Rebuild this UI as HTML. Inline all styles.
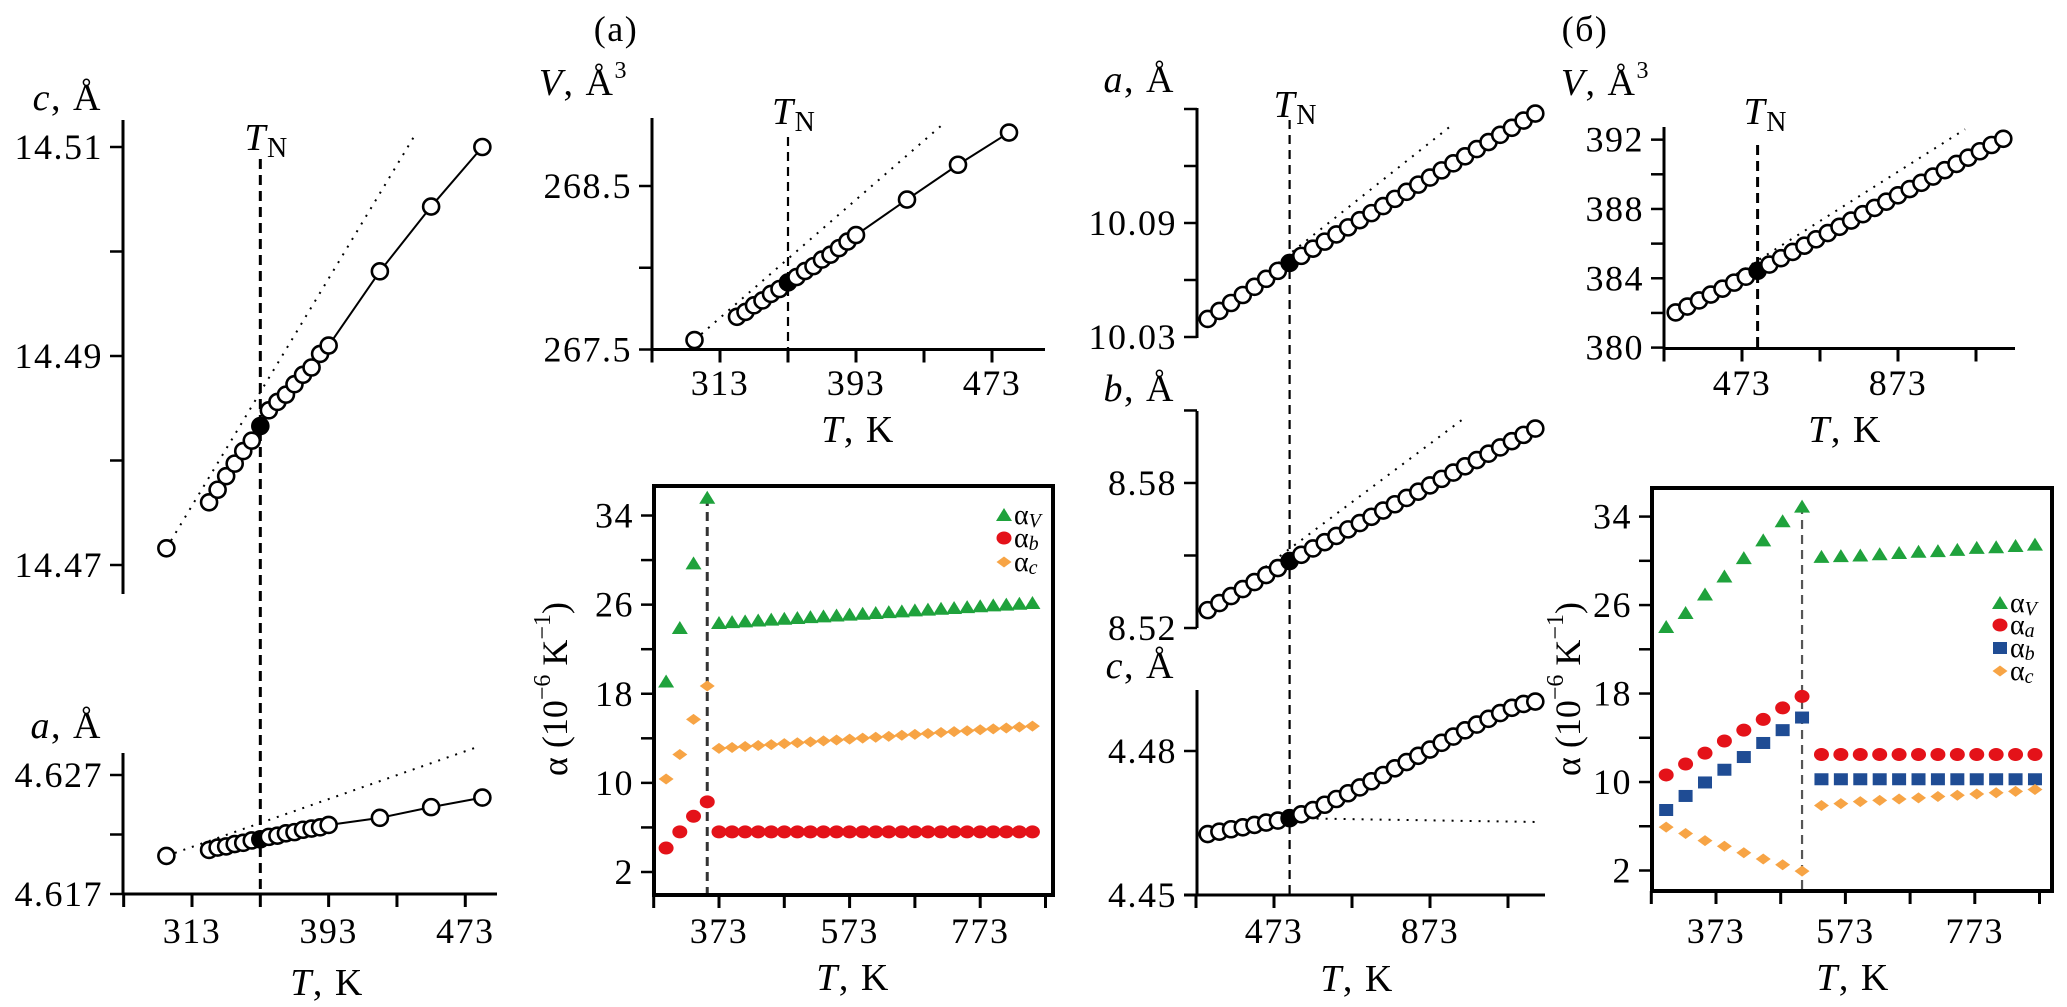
<!DOCTYPE html>
<html><head><meta charset="utf-8">
<style>
html,body{margin:0;padding:0;background:#fff;}
svg{display:block;font-family:"Liberation Serif","DejaVu Serif",serif;}
</style></head>
<body>
<svg id="chart" width="2067" height="1007" viewBox="0 0 2067 1007" xmlns="http://www.w3.org/2000/svg"></svg>
<script>
// ---------- DATA ----------
const p1T = [298,323,328,333,338,343,348,353,358,363,368,373,378,383,388,393,423,453,483];
const p1C = [14.4716,14.4760,14.4772,14.4785,14.4797,14.4809,14.4819,14.4833,14.4848,14.4856,14.4863,14.4873,14.4882,14.4889,14.4902,14.4910,14.4981,14.5043,14.5100];
const p1A = [4.6202,4.6207,4.6209,4.6210,4.6212,4.6213,4.6215,4.6216,4.6218,4.6219,4.6221,4.6222,4.6224,4.6225,4.6226,4.6228,4.6234,4.6243,4.6251];
const p1cFitT = [298,443];
const p1cFitV = [14.4716,14.5110];
const p1aFitT = [298,481];
const p1aFitV = [4.6202,4.6294];
const p1cTicks = [14.47,14.48,14.49,14.50,14.51];
const p1cLabels = ['14.47','','14.49','','14.51'];
const p1aTicks = [4.617,4.622,4.627];
const p1aLabels = ['4.617','','4.627'];
const p1xTicks = [273,313,353,393,433,473];
const p1xLabels = ['','313','','393','','473'];
const p1TN = 353;
const p2T = [298,323,328,333,338,343,348,353,358,363,368,373,378,383,388,393,423,453,483];
const p2V = [267.558,267.70,267.73,267.77,267.80,267.84,267.87,267.91,267.943,267.98,268.01,268.05,268.08,268.12,268.16,268.20,268.417,268.63,268.827];
const p2FitT = [298,444];
const p2FitV = [267.558,268.877];
const p2yTicks = [267.5,268.0,268.5];
const p2yLabels = ['267.5','','268.5'];
const p2xTicks = [273,313,353,393,433,473];
const p2xLabels = ['','313','','393','','473'];
const aT1 = [292,313,334,355];
const aV1 = [19.1,23.9,29.7,35.6];
const aC1 = [10.35,12.55,15.7,18.7];
const aB1 = [4.15,5.6,7.0,8.3];
const aT2 = [373,393,413,433,453,473,493,513,533,553,573,593,613,633,653,673,693,713,733,753,773,793,813,833,853];
const aV2 = [24.35,24.43,24.50,24.58,24.65,24.73,24.80,24.88,24.95,25.03,25.10,25.18,25.25,25.33,25.40,25.48,25.55,25.63,25.70,25.78,25.85,25.93,26.00,26.08,26.15];
const aC2 = [13.10,13.18,13.27,13.35,13.43,13.52,13.60,13.68,13.77,13.85,13.93,14.02,14.10,14.18,14.27,14.35,14.43,14.52,14.60,14.68,14.77,14.85,14.93,15.02,15.10];
const aB2 = [5.6,5.6,5.6,5.6,5.6,5.6,5.6,5.6,5.6,5.6,5.6,5.6,5.6,5.6,5.6,5.6,5.6,5.6,5.6,5.6,5.6,5.6,5.6,5.6,5.6];
const alphaYTicks = [2,6,10,14,18,22,26,30,34];
const alphaYLabels = ['2','','10','','18','','26','','34'];
const alphaXTicks = [273,373,473,573,673,773,873];
const alphaXLabels = ['','373','','573','','773',''];
const aTN = 355;
const p3T = [303,333,363,393,423,453,483,513,543,573,603,633,663,693,723,753,783,813,843,873,903,933,963,993,1023,1053,1083,1113,1143];
const p3A = [10.0395,10.0437,10.0479,10.0521,10.0564,10.0606,10.0648,10.0690,10.0727,10.0765,10.0802,10.0840,10.0877,10.0915,10.0952,10.0989,10.1027,10.1064,10.1102,10.1139,10.1177,10.1214,10.1251,10.1289,10.1326,10.1364,10.1401,10.1439,10.1476];
const p3B = [8.5274,8.5303,8.5332,8.5361,8.5390,8.5419,8.5448,8.5477,8.5503,8.5529,8.5555,8.5581,8.5608,8.5634,8.5660,8.5686,8.5712,8.5738,8.5764,8.5790,8.5817,8.5843,8.5869,8.5895,8.5921,8.5947,8.5973,8.5999,8.6025];
const p3C = [4.4627,4.4632,4.4637,4.4641,4.4646,4.4651,4.4655,4.4660,4.4668,4.4677,4.4688,4.4700,4.4712,4.4724,4.4737,4.4750,4.4764,4.4777,4.4790,4.4803,4.4817,4.4830,4.4843,4.4855,4.4867,4.4879,4.4890,4.4898,4.4903];
const p3aFitT = [303,932];
const p3aFitV = [10.0395,10.142];
const p3bFitT = [303,954];
const p3bFitV = [8.5274,8.606];
const p3cFitT = [513,1155];
const p3cFitV = [4.4660,4.4652];
const p3aTicks = [10.03,10.06,10.09,10.12,10.15];
const p3aLabels = ['10.03','','10.09','',''];
const p3bTicks = [8.52,8.55,8.58,8.61];
const p3bLabels = ['8.52','','8.58',''];
const p3cTicks = [4.45,4.48];
const p3cLabels = ['4.45','4.48'];
const p3xTicks = [273,473,673,873,1073];
const p3xLabels = ['','473','','873',''];
const bTN = 513;
const p4T = [303,333,363,393,423,453,483,513,543,573,603,633,663,693,723,753,783,813,843,873,903,933,963,993,1023,1053,1083,1113,1143];
const p4V = [382.03,382.37,382.72,383.06,383.40,383.75,384.09,384.43,384.79,385.16,385.52,385.88,386.25,386.61,386.97,387.33,387.70,388.06,388.42,388.79,389.15,389.51,389.87,390.24,390.60,390.96,391.33,391.69,392.05];
const p4FitT = [303,1045];
const p4FitV = [382.03,392.6];
const p4yTicks = [380,382,384,386,388,390,392];
const p4yLabels = ['380','','384','','388','','392'];
const p4xTicks = [273,473,673,873,1073];
const p4xLabels = ['','473','','873',''];
const bT1 = [296,326,356,386,416,446,476,506];
const bV1 = [24.02,25.28,26.95,28.58,30.24,31.85,33.58,34.9];
const bA1 = [10.64,11.63,12.61,13.71,14.69,15.66,16.70,17.74];
const bB1 = [7.47,8.74,9.96,11.11,12.26,13.53,14.69,15.83];
const bC1 = [5.92,5.35,4.70,4.19,3.61,3.04,2.52,1.94];
const bT2 = [536,566,596,626,656,686,716,746,776,806,836,866];
const bV2 = [30.36,30.42,30.48,30.59,30.71,30.82,30.88,30.99,31.17,31.23,31.34,31.46];
const bA2 = [12.49,12.49,12.49,12.49,12.49,12.49,12.49,12.49,12.49,12.49,12.49,12.49];
const bB2 = [10.25,10.25,10.25,10.25,10.25,10.25,10.25,10.25,10.25,10.25,10.25,10.25];
const bC2 = [7.88,8.05,8.23,8.34,8.46,8.57,8.69,8.80,8.92,9.03,9.15,9.32];
const bTNa = 506;

// ---------- HELPERS ----------
const NS = 'http://www.w3.org/2000/svg';
const svg = document.getElementById('chart');
function mk(tag, attrs, parent) {
  const e = document.createElementNS(NS, tag);
  for (const k in attrs) e.setAttribute(k, attrs[k]);
  (parent || svg).appendChild(e);
  return e;
}
function grp(name) {
  const g = mk('g', {});
  
  
  return g;
}
function txt(x, y, s, size, anchor, parent) {
  const t = mk('text', {x: x, y: y, 'font-size': size, 'text-anchor': anchor, 'dominant-baseline': 'central', 'letter-spacing': 1.5, fill: '#000'}, parent);
  t.textContent = s;
  return t;
}
function ts(parent, s, attrs) {
  const t = mk('tspan', attrs || {}, parent);
  t.textContent = s;
  return t;
}
function vAxis(g, x, yTop, yBot, ticks, labels, yf) {
  const l = mk('line', {x1: x, y1: yTop, x2: x, y2: yBot, stroke: '#000', 'stroke-width': 3}, g);
  
  
  ticks.forEach((v, i) => {
    const y = yf(v);
    const t = mk('line', {x1: x - 13, y1: y, x2: x, y2: y, stroke: '#000', 'stroke-width': 2.5}, g);
    
    
    if (labels[i]) {
      const lb = txt(x - 20, y, labels[i], 36, 'end', g);
      
      
    }
  });
}
function hAxis(g, y, xL, xR, ticks, labels, xf, ly, drawLine) {
  if (drawLine) {
    const l = mk('line', {x1: xL, y1: y, x2: xR, y2: y, stroke: '#000', 'stroke-width': 3}, g);
    
    
  }
  ticks.forEach((v, i) => {
    const x = xf(v);
    const t = mk('line', {x1: x, y1: y, x2: x, y2: y + 13, stroke: '#000', 'stroke-width': 3}, g);
    
    
    if (labels[i]) {
      const lb = txt(x, ly, labels[i], 36, 'middle', g);
      
      
    }
  });
}
function xTitle(g, x, y) {
  const t = txt(x, y, '', 38, 'middle', g);
  ts(t, 'T', {'font-style': 'italic'});
  ts(t, ', K');
  
  
}
function yTitleLetter(g, xr, y, letter, sup) {
  const t = txt(xr, y, '', 38, 'end', g);
  ts(t, letter, {'font-style': 'italic'});
  ts(t, ', Å');
  if (sup) ts(t, sup, {'font-size': 24, dy: -12});
  
  
}
function tnLine(g, x, y1, y2, w, color, dash) {
  const l = mk('line', {x1: x, y1: y1, x2: x, y2: y2, stroke: color, 'stroke-width': w, 'stroke-dasharray': dash}, g);
  
  
}
function tnLabel(g, x, y) {
  const t = txt(x, y, '', 38, 'start', g);
  ts(t, 'T', {'font-style': 'italic'});
  ts(t, 'N', {'font-size': 28, dy: 10});
  
  
}
function fitLine(g, Ts, Vs, xf, yf) {
  const l = mk('line', {x1: xf(Ts[0]), y1: yf(Vs[0]), x2: xf(Ts[1]), y2: yf(Vs[1]), stroke: '#000', 'stroke-width': 2, 'stroke-dasharray': '2,7'}, g);
  
  
}
function solidLine(g, Ts, Vs, xf, yf, from) {
  const pts = [];
  for (let i = from; i < Ts.length; i++) pts.push(xf(Ts[i]) + ',' + yf(Vs[i]));
  const p = mk('polyline', {points: pts.join(' '), fill: 'none', stroke: '#000', 'stroke-width': 2}, g);
  
  
}
function openPts(g, Ts, Vs, xf, yf, filledIdx) {
  Ts.forEach((T, i) => {
    const c = mk('circle', {cx: xf(T), cy: yf(Vs[i]), r: 8, fill: i === filledIdx ? '#000' : '#fff', stroke: '#000', 'stroke-width': 2.6}, g);
    
    
  });
}
function marker(g, type, x, y, color) {
  let e;
  if (type === 'tri') e = mk('polygon', {points: (x-8)+','+(y+6)+' '+(x+8)+','+(y+6)+' '+x+','+(y-7), fill: color}, g);
  else if (type === 'circ') e = mk('ellipse', {cx: x, cy: y, rx: 7.5, ry: 6.5, fill: color}, g);
  else if (type === 'sq') e = mk('rect', {x: x - 7, y: y - 6, width: 14, height: 12, fill: color}, g);
  else e = mk('polygon', {points: (x-7.5)+','+y+' '+x+','+(y-5.5)+' '+(x+7.5)+','+y+' '+x+','+(y+5.5), fill: color}, g);
  return e;
}
function series(g, type, color, Ts, Vs, xf, yf, name) {
  Ts.forEach((T, i) => {
    const m = marker(g, type, xf(T), yf(Vs[i]), color);
    
    
  });
}
function alphaTitle(g, x, y) {
  const t = mk('text', {x: 0, y: 0, 'font-size': 36, 'text-anchor': 'middle', 'dominant-baseline': 'central', transform: 'translate(' + x + ',' + y + ') rotate(-90)'}, g);
  ts(t, 'α (10');
  ts(t, '−6', {'font-size': 24, dy: -12});
  ts(t, ' K', {dy: 12});
  ts(t, '−1', {'font-size': 24, dy: -12});
  ts(t, ')', {dy: 12});
  
  
}
function legendEntry(g, type, color, x, y, sub) {
  const m = marker(g, type, x, y, color);
  
  
  const t = mk('text', {x: x + 10, y: y, 'font-size': 28, 'dominant-baseline': 'central', fill: '#000'}, g);
  ts(t, 'α');
  ts(t, sub, {'font-size': 20, 'font-style': 'italic', dy: 6});
  
  
}
function frame(g, x, y, w, h) {
  const r = mk('rect', {x: x, y: y, width: w, height: h, fill: 'none', stroke: '#000', 'stroke-width': 4}, g);
  
  
}

// ---------- PANEL (a) LEFT ----------
{
  const g = grp('panel-a-lattice-c-a');
  const xs = T => 192 + (T - 313) * 1.708;
  const yc = v => 565 - (v - 14.47) * 10450;
  const ya = v => 894 - (v - 4.617) * 11900;
  vAxis(g, 123, 120, 594, p1cTicks, p1cLabels, yc);
  vAxis(g, 123, 753, 894, p1aTicks, p1aLabels, ya);
  hAxis(g, 894, 123, 497, p1xTicks, p1xLabels, xs, 931, true);
  yTitleLetter(g, 102, 98, 'c', '');
  yTitleLetter(g, 102, 726, 'a', '');
  xTitle(g, 327, 983);
  tnLine(g, xs(p1TN), 159, 894, 3, '#000', '10,6');
  tnLabel(g, xs(p1TN) - 16, 138);
  fitLine(g, p1cFitT, p1cFitV, xs, yc);
  fitLine(g, p1aFitT, p1aFitV, xs, ya);
  solidLine(g, p1T, p1C, xs, yc, 1);
  solidLine(g, p1T, p1A, xs, ya, 1);
  openPts(g, p1T, p1C, xs, yc, 7);
  openPts(g, p1T, p1A, xs, ya, 7);
}
// ---------- PANEL (a) V ----------
{
  const g = grp('panel-a-volume');
  const xs = T => 720 + (T - 313) * 1.7;
  const ys = v => 349.5 - (v - 267.5) * 163.5;
  const lab = txt(616, 29, '(a)', 36, 'middle', g);
  
  
  vAxis(g, 652, 118, 349.5, p2yTicks, p2yLabels, ys);
  hAxis(g, 349.5, 652, 1045, p2xTicks, p2xLabels, xs, 383, true);
  yTitleLetter(g, 628, 83, 'V', '3');
  xTitle(g, 858, 430);
  tnLine(g, xs(p1TN), 137, 349.5, 2.2, '#000', '9,6');
  tnLabel(g, xs(p1TN) - 16, 112);
  fitLine(g, p2FitT, p2FitV, xs, ys);
  solidLine(g, p2T, p2V, xs, ys, 1);
  openPts(g, p2T, p2V, xs, ys, 7);
}
// ---------- PANEL (a) ALPHA ----------
{
  const g = grp('panel-a-expansion');
  const xs = T => 719 + (T - 373) * 0.653;
  const ys = v => 872 - (v - 2) * 11.14;
  vAxis(g, 654, 486, 895, alphaYTicks, alphaYLabels, ys);
  hAxis(g, 895, 654, 1053, alphaXTicks, alphaXLabels, xs, 931, false);
  frame(g, 654, 486, 399, 409);
  alphaTitle(g, 555, 689);
  xTitle(g, 853, 978);
  tnLine(g, xs(aTN), 497, 893, 3, '#333', '9,6');
  series(g, 'tri', '#1fa23c', aT1, aV1, xs, ys, 'alpha-v-point');
  series(g, 'tri', '#1fa23c', aT2, aV2, xs, ys, 'alpha-v-point');
  series(g, 'dia', '#f7a445', aT1, aC1, xs, ys, 'alpha-c-point');
  series(g, 'dia', '#f7a445', aT2, aC2, xs, ys, 'alpha-c-point');
  series(g, 'circ', '#e41219', aT1, aB1, xs, ys, 'alpha-b-point');
  series(g, 'circ', '#e41219', aT2, aB2, xs, ys, 'alpha-b-point');
  legendEntry(g, 'tri', '#1fa23c', 1004, 515, 'V');
  legendEntry(g, 'circ', '#e41219', 1004, 538, 'b');
  legendEntry(g, 'dia', '#f7a445', 1004, 562, 'c');
}
// ---------- PANEL (б) a, b, c ----------
{
  const g = grp('panel-b-lattice-abc');
  const xs = T => 1274 + (T - 473) * 0.39;
  const ya = v => 337 - (v - 10.03) * 1900;
  const yb = v => 628 - (v - 8.52) * 2417;
  const yc = v => 895 - (v - 4.45) * 4800;
  vAxis(g, 1197, 108, 338, p3aTicks, p3aLabels, ya);
  vAxis(g, 1197, 411, 628, p3bTicks, p3bLabels, yb);
  vAxis(g, 1197, 690, 895, p3cTicks, p3cLabels, yc);
  hAxis(g, 895, 1184, 1545, p3xTicks, p3xLabels, xs, 931, true);
  yTitleLetter(g, 1175, 80, 'a', '');
  yTitleLetter(g, 1175, 389, 'b', '');
  yTitleLetter(g, 1175, 666, 'c', '');
  xTitle(g, 1357, 979);
  tnLine(g, xs(bTN), 120, 895, 2.2, '#000', '9,6');
  tnLabel(g, xs(bTN) - 16, 105);
  fitLine(g, p3aFitT, p3aFitV, xs, ya);
  fitLine(g, p3bFitT, p3bFitV, xs, yb);
  fitLine(g, p3cFitT, p3cFitV, xs, yc);
  openPts(g, p3T, p3A, xs, ya, 7);
  openPts(g, p3T, p3B, xs, yb, 7);
  openPts(g, p3T, p3C, xs, yc, 7);
}
// ---------- PANEL (б) V ----------
{
  const g = grp('panel-b-volume');
  const xs = T => 1742 + (T - 473) * 0.39;
  const ys = v => 347.6 - (v - 380) * 17.33;
  const lab = txt(1585, 29, '(б)', 36, 'middle', g);
  
  
  vAxis(g, 1664, 127, 348.5, p4yTicks, p4yLabels, ys);
  hAxis(g, 348.5, 1664, 2015, p4xTicks, p4xLabels, xs, 383, true);
  yTitleLetter(g, 1650, 83, 'V', '3');
  xTitle(g, 1845, 430);
  tnLine(g, xs(bTN), 145, 348.5, 3, '#000', '10,6');
  tnLabel(g, xs(bTN) - 14, 112);
  fitLine(g, p4FitT, p4FitV, xs, ys);
  openPts(g, p4T, p4V, xs, ys, 7);
}
// ---------- PANEL (б) ALPHA ----------
{
  const g = grp('panel-b-expansion');
  const xs = T => 1716 + (T - 373) * 0.647;
  const ys = v => 870.5 - (v - 2) * 11.06;
  vAxis(g, 1652, 488, 891, alphaYTicks, alphaYLabels, ys);
  hAxis(g, 891, 1652, 2052, alphaXTicks, alphaXLabels, xs, 931, false);
  frame(g, 1652, 488, 400, 403);
  alphaTitle(g, 1568, 689);
  xTitle(g, 1853, 978);
  tnLine(g, xs(bTNa), 505, 889, 2.2, '#555', '9,6');
  series(g, 'tri', '#1fa23c', bT1, bV1, xs, ys, 'alpha-v-point');
  series(g, 'tri', '#1fa23c', bT2, bV2, xs, ys, 'alpha-v-point');
  series(g, 'circ', '#e41219', bT1, bA1, xs, ys, 'alpha-a-point');
  series(g, 'circ', '#e41219', bT2, bA2, xs, ys, 'alpha-a-point');
  series(g, 'sq', '#1f4c94', bT1, bB1, xs, ys, 'alpha-b-point');
  series(g, 'sq', '#1f4c94', bT2, bB2, xs, ys, 'alpha-b-point');
  series(g, 'dia', '#f7a445', bT1, bC1, xs, ys, 'alpha-c-point');
  series(g, 'dia', '#f7a445', bT2, bC2, xs, ys, 'alpha-c-point');
  legendEntry(g, 'tri', '#1fa23c', 2000, 603, 'V');
  legendEntry(g, 'circ', '#e41219', 2000, 625, 'a');
  legendEntry(g, 'sq', '#1f4c94', 2000, 648, 'b');
  legendEntry(g, 'dia', '#f7a445', 2000, 671, 'c');
}
</script>
</body></html>
